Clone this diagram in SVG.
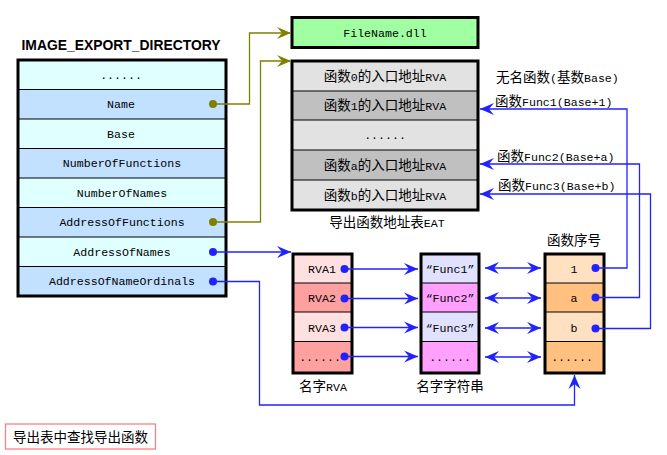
<svg xmlns="http://www.w3.org/2000/svg" width="667" height="455" viewBox="0 0 667 455">
<style>
.box{stroke:#000;stroke-width:3;fill:none}
.div{stroke:#000;stroke-width:1}
.t{font-family:"Liberation Mono","Noto Sans CJK SC",monospace;font-size:11.6px;fill:#000;text-anchor:middle}
.c{font-family:"Noto Sans CJK SC","Liberation Mono",sans-serif;font-size:13.5px;fill:#000}
.a{font-family:"Liberation Mono",monospace;font-size:11.6px}
.ol{stroke:#808000;stroke-width:1.3;fill:none}
.bl{stroke:#2222FF;stroke-width:1.3;fill:none}
.cy{fill:#E0FFFF}.lb{fill:#C2E0FF}
.g1{fill:#E2E2E2}.g2{fill:#C0C0C0}
.p1{fill:#FFE0E0}.p2{fill:#FFA0A0}
.s1{fill:#E0E0FF}.s2{fill:#FFA0FF}
.o1{fill:#FFE0C0}.o2{fill:#FFC080}
</style>
<defs>
<marker id="arO" viewBox="-15 -7 16 14" refX="0" refY="0" markerWidth="16" markerHeight="14" markerUnits="userSpaceOnUse" orient="auto">
<path d="M0,0 L-14,-6 L-9,0 L-14,6 Z" fill="#808000"/>
</marker>
<marker id="arB" viewBox="-15 -7 16 14" refX="0" refY="0" markerWidth="16" markerHeight="14" markerUnits="userSpaceOnUse" orient="auto-start-reverse">
<path d="M0,0 L-14,-6 L-9,0 L-14,6 Z" fill="#2222FF"/>
</marker>
</defs>
<rect width="667" height="455" fill="#fff"/>

<g id="export-directory">
<text x="121" y="50" font-family="Liberation Sans,Arial,sans-serif" font-weight="bold" font-size="14.5" text-anchor="middle" textLength="199" lengthAdjust="spacingAndGlyphs">IMAGE_EXPORT_DIRECTORY</text>
<rect class="cy" x="18" y="60" width="208" height="29.5"/>
<rect class="lb" x="18" y="89.5" width="208" height="29.5"/>
<rect class="cy" x="18" y="119" width="208" height="29.5"/>
<rect class="lb" x="18" y="148.5" width="208" height="29.5"/>
<rect class="cy" x="18" y="178" width="208" height="29.5"/>
<rect class="lb" x="18" y="207.5" width="208" height="29.5"/>
<rect class="cy" x="18" y="237" width="208" height="29.5"/>
<rect class="lb" x="18" y="266.5" width="208" height="29.5"/>
<g class="div">
<line x1="18" y1="89.5" x2="226" y2="89.5"/><line x1="18" y1="119" x2="226" y2="119"/>
<line x1="18" y1="148.5" x2="226" y2="148.5"/><line x1="18" y1="178" x2="226" y2="178"/>
<line x1="18" y1="207.5" x2="226" y2="207.5"/><line x1="18" y1="237" x2="226" y2="237"/>
<line x1="18" y1="266.5" x2="226" y2="266.5"/>
</g>
<rect class="box" x="18" y="60" width="208" height="236"/>
<text class="t" x="121" y="79">......</text>
<text class="t" x="121" y="108">Name</text>
<text class="t" x="121" y="138">Base</text>
<text class="t" x="122" y="167">NumberOfFunctions</text>
<text class="t" x="122" y="197">NumberOfNames</text>
<text class="t" x="122" y="226">AddressOfFunctions</text>
<text class="t" x="122" y="256">AddressOfNames</text>
<text class="t" x="122" y="285">AddressOfNameOrdinals</text>
<circle cx="213" cy="104" r="4" fill="#808000"/>
<circle cx="213" cy="222" r="4" fill="#808000"/>
<circle cx="213" cy="252" r="4" fill="#2222FF"/>
<circle cx="213" cy="281.5" r="4" fill="#2222FF"/>
</g>

<g id="filename">
<rect x="292" y="17.5" width="186" height="30" fill="#A0FFA0"/>
<rect class="box" x="292" y="17.5" width="186" height="30"/>
<text class="t" x="385" y="37">FileName.dll</text>
</g>

<g id="eat">
<rect class="g1" x="292" y="61" width="186" height="30"/>
<rect class="g2" x="292" y="91" width="186" height="29"/>
<rect class="g1" x="292" y="120" width="186" height="30"/>
<rect class="g2" x="292" y="150" width="186" height="30"/>
<rect class="g1" x="292" y="180" width="186" height="30"/>
<g class="div">
<line x1="292" y1="91" x2="478" y2="91"/><line x1="292" y1="120" x2="478" y2="120"/>
<line x1="292" y1="150" x2="478" y2="150"/><line x1="292" y1="180" x2="478" y2="180"/>
</g>
<rect class="box" x="292" y="61" width="186" height="149"/>
<text class="c" x="385" y="81" text-anchor="middle">函数<tspan class="a">0</tspan>的入口地址<tspan class="a">RVA</tspan></text>
<text class="c" x="385" y="110" text-anchor="middle">函数<tspan class="a">1</tspan>的入口地址<tspan class="a">RVA</tspan></text>
<text class="t" x="385" y="139">......</text>
<text class="c" x="385" y="170" text-anchor="middle">函数<tspan class="a">a</tspan>的入口地址<tspan class="a">RVA</tspan></text>
<text class="c" x="385" y="200" text-anchor="middle">函数<tspan class="a">b</tspan>的入口地址<tspan class="a">RVA</tspan></text>
<text class="c" x="387" y="227" text-anchor="middle">导出函数地址表<tspan class="a">EAT</tspan></text>
</g>

<g id="eat-labels">
<text class="c" x="496" y="82">无名函数<tspan class="a">(</tspan>基数<tspan class="a">Base)</tspan></text>
<text class="c" x="495" y="106">函数<tspan class="a">Func1(Base+1)</tspan></text>
<text class="c" x="497" y="161">函数<tspan class="a">Func2(Base+a)</tspan></text>
<text class="c" x="498" y="190">函数<tspan class="a">Func3(Base+b)</tspan></text>
</g>

<g id="name-rva">
<rect class="p1" x="293" y="254" width="59" height="29"/>
<rect class="p2" x="293" y="283" width="59" height="29"/>
<rect class="p1" x="293" y="312" width="59" height="29.5"/>
<rect class="p2" x="293" y="341.5" width="59" height="31.5"/>
<g class="div">
<line x1="293" y1="283" x2="352" y2="283"/><line x1="293" y1="312" x2="352" y2="312"/><line x1="293" y1="341.5" x2="352" y2="341.5"/>
</g>
<rect class="box" x="293" y="254" width="59" height="119"/>
<text class="t" x="322" y="273">RVA1</text>
<text class="t" x="322" y="302">RVA2</text>
<text class="t" x="322" y="332">RVA3</text>
<text class="t" x="320" y="361">......</text>
<circle cx="344.5" cy="269" r="4" fill="#2222FF"/>
<circle cx="344.5" cy="298.5" r="4" fill="#2222FF"/>
<circle cx="344.5" cy="327.5" r="4" fill="#2222FF"/>
<circle cx="344.5" cy="356.5" r="4" fill="#2222FF"/>
<text class="c" x="323" y="391" text-anchor="middle">名字<tspan class="a">RVA</tspan></text>
</g>

<g id="name-strings">
<rect class="s1" x="421" y="254" width="58" height="29"/>
<rect class="s2" x="421" y="283" width="58" height="29"/>
<rect class="s1" x="421" y="312" width="58" height="29.5"/>
<rect class="s2" x="421" y="341.5" width="58" height="31.5"/>
<g class="div">
<line x1="421" y1="283" x2="479" y2="283"/><line x1="421" y1="312" x2="479" y2="312"/><line x1="421" y1="341.5" x2="479" y2="341.5"/>
</g>
<rect class="box" x="421" y="254" width="58" height="119"/>
<text class="t" x="450" y="273">“Func1”</text>
<text class="t" x="450" y="302">“Func2”</text>
<text class="t" x="450" y="332">“Func3”</text>
<text class="t" x="450" y="361">......</text>
<text class="c" x="450" y="391" text-anchor="middle">名字字符串</text>
</g>

<g id="ordinals">
<text class="c" x="574" y="245" text-anchor="middle">函数序号</text>
<rect class="o1" x="545" y="254" width="59" height="29"/>
<rect class="o2" x="545" y="283" width="59" height="29"/>
<rect class="o1" x="545" y="312" width="59" height="29.5"/>
<rect class="o2" x="545" y="341.5" width="59" height="31.5"/>
<g class="div">
<line x1="545" y1="283" x2="604" y2="283"/><line x1="545" y1="312" x2="604" y2="312"/><line x1="545" y1="341.5" x2="604" y2="341.5"/>
</g>
<rect class="box" x="545" y="254" width="59" height="119"/>
<text class="t" x="574" y="273">1</text>
<text class="t" x="574" y="302">a</text>
<text class="t" x="574" y="332">b</text>
<text class="t" x="572" y="361">......</text>
<circle cx="595.5" cy="268" r="4" fill="#2222FF"/>
<circle cx="595.5" cy="297.5" r="4" fill="#2222FF"/>
<circle cx="595.5" cy="328.5" r="4" fill="#2222FF"/>
</g>

<g id="caption">
<rect x="5.5" y="424" width="150" height="25" fill="#fff" stroke="#FF8080" stroke-width="1.3"/>
<text class="c" x="80.5" y="442" text-anchor="middle" font-size="14">导出表中查找导出函数</text>
</g>

<g id="connectors">
<polyline class="ol" points="213,104 249.5,104 249.5,33 291,33" marker-end="url(#arO)"/>
<polyline class="ol" points="213,222 260.5,222 260.5,61 291,61" marker-end="url(#arO)"/>
<polyline class="bl" points="213,252 291,252" marker-end="url(#arB)"/>
<polyline class="bl" points="213,281.5 259.5,281.5 259.5,405 574.5,405 574.5,375" marker-end="url(#arB)"/>
<line class="bl" x1="344.5" y1="269" x2="418" y2="269" marker-end="url(#arB)"/>
<line class="bl" x1="344.5" y1="298.5" x2="418" y2="298.5" marker-end="url(#arB)"/>
<line class="bl" x1="344.5" y1="327.5" x2="418" y2="327.5" marker-end="url(#arB)"/>
<line class="bl" x1="344.5" y1="356.5" x2="418" y2="356.5" marker-end="url(#arB)"/>
<line class="bl" x1="485" y1="268" x2="541" y2="268" marker-start="url(#arB)" marker-end="url(#arB)"/>
<line class="bl" x1="485" y1="298" x2="541" y2="298" marker-start="url(#arB)" marker-end="url(#arB)"/>
<line class="bl" x1="485" y1="328" x2="541" y2="328" marker-start="url(#arB)" marker-end="url(#arB)"/>
<line class="bl" x1="485" y1="357" x2="541" y2="357" marker-start="url(#arB)" marker-end="url(#arB)"/>
<polyline class="bl" points="595.5,268 627,268 627,109 480,109" marker-end="url(#arB)"/>
<polyline class="bl" points="595.5,297.5 639.5,297.5 639.5,164 480,164" marker-end="url(#arB)"/>
<polyline class="bl" points="595.5,328.5 650.5,328.5 650.5,194 480,194" marker-end="url(#arB)"/>
</g>
</svg>
